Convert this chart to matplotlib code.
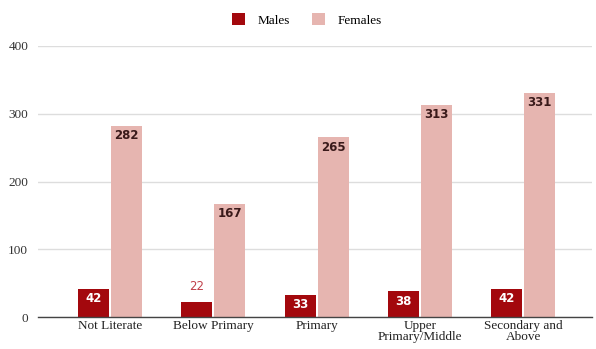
import matplotlib
matplotlib.use("Agg")
import matplotlib.pyplot as plt
import numpy as np

categories = ["Not Literate", "Below Primary", "Primary", "Upper\nPrimary/Middle", "Secondary and\nAbove"]
males = [42, 22, 33, 38, 42]
females = [282, 167, 265, 313, 331]
y_ticks = [0, 100, 200, 300, 400]

male_color = "#a3080d"
female_color = "#e6b5b0"

fig = plt.figure(figsize=(5.96, 3.49), dpi=100)
ax = fig.add_axes([38 / 596, 32 / 349, 554 / 596, 271 / 349])

x = np.arange(len(categories))
w = 0.30
gap = 0.02
mb = ax.bar(x - w / 2 - gap / 2, males, w, color=male_color, label="Males", zorder=3)
fb = ax.bar(x + w / 2 + gap / 2, females, w, color=female_color, label="Females", zorder=3)

ax.set_xlim(-0.695, 4.665)
ax.set_ylim(0, 400)
ax.set_yticks(y_ticks)
ax.set_yticklabels([str(t) for t in y_ticks], family="Liberation Serif", fontsize=9.5, color="#333333")
ax.set_xticks(x)
ax.set_xticklabels(categories, family="Liberation Serif", fontsize=9.5, color="#222222", linespacing=0.9)
ax.tick_params(axis="x", length=0, pad=2)
ax.tick_params(axis="y", length=0, pad=7)
ax.grid(axis="y", color="#dddddd", linewidth=1, zorder=0)
for s in ["top", "right", "left"]:
    ax.spines[s].set_visible(False)
ax.spines["bottom"].set_color("#444444")
ax.spines["bottom"].set_linewidth(1)
ax.spines["bottom"].set_zorder(4)

for rect, v in zip(mb, males):
    cx = rect.get_x() + rect.get_width() / 2
    if v >= 30:
        ax.text(cx, v - 5, str(v), ha="center", va="top", color="white",
                fontsize=8.5, fontweight="bold", zorder=5)
    else:
        ax.text(cx, v + 14, str(v), ha="center", va="bottom", color="#c0404a",
                fontsize=8.5, zorder=5)

for rect, v in zip(fb, females):
    cx = rect.get_x() + rect.get_width() / 2
    ax.text(cx, v - 5, str(v), ha="center", va="top", color="#3a1a1a",
            fontsize=8.5, fontweight="bold", zorder=5)

fig.legend(handles=[mb, fb], labels=["Males", "Females"], loc="center",
           bbox_to_anchor=(0.515, 1 - 20 / 349), ncol=2, frameon=False,
           prop={"family": "Liberation Serif", "size": 9.5},
           handlelength=1.0, handleheight=1.0, columnspacing=1.6, handletextpad=1.0)

fig.savefig("out.png", dpi=100, facecolor="white")
